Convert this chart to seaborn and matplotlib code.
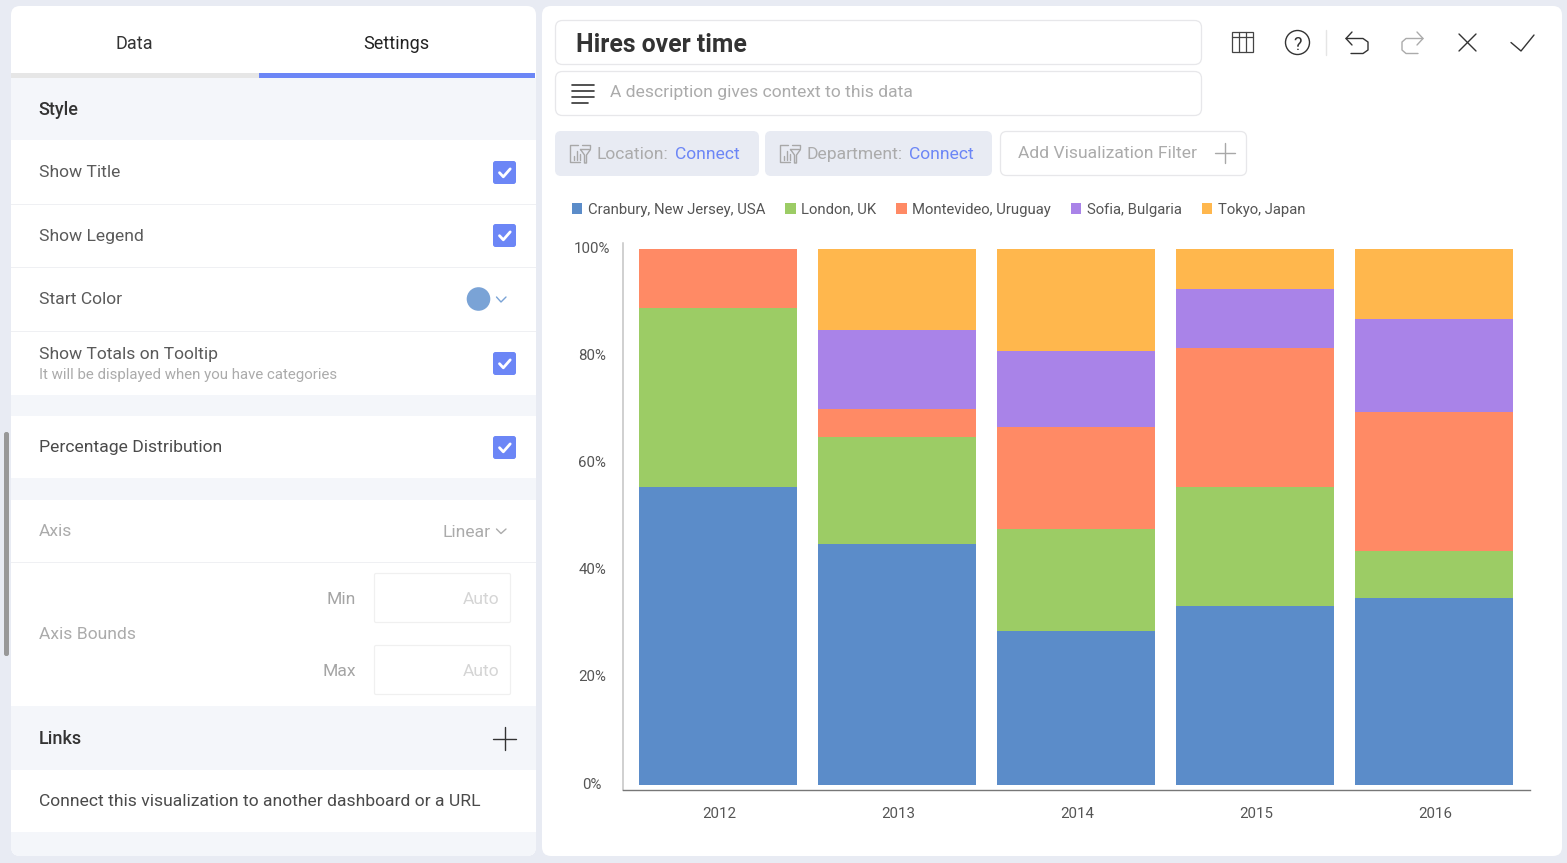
import matplotlib
matplotlib.use("Agg")
import matplotlib.pyplot as plt
from matplotlib.patches import FancyBboxPatch, Rectangle, Circle, Patch
from matplotlib.transforms import ScaledTranslation
import pandas as pd
import seaborn as sns

# ---- data ----
years = ["2012", "2013", "2014", "2015", "2016"]
locations = ["Cranbury, New Jersey, USA", "London, UK", "Montevideo, Uruguay", "Sofia, Bulgaria", "Tokyo, Japan"]
cranbury = [55.6, 45.0, 28.7, 33.3, 34.8]
london = [33.3, 20.0, 19.0, 22.2, 8.8]
montevideo = [11.1, 5.1, 19.1, 25.9, 26.0]
sofia = [0.0, 14.8, 14.2, 11.1, 17.4]
tokyo = [0.0, 15.1, 19.0, 7.4, 13.0]
colors = ["#5B8CC9", "#9CCC65", "#FF8A65", "#A983E8", "#FFB74D"]
y_ticks = [0, 20, 40, 60, 80, 100]

W, H = 1567, 863
sns.set_theme(style="white")
plt.rcParams["font.family"] = ["Roboto", "DejaVu Sans"]

fig = plt.figure(figsize=(W / 100, H / 100), dpi=100, facecolor="#E8EBF3")
ui = fig.add_axes([0, 0, 1, 1], zorder=0)
ui.set_xlim(0, W)
ui.set_ylim(H, 0)
ui.axis("off")

PX = 0.72
FS = 17.45
DARK, MID, PALE, BLUE = "#333333", "#4A4A4A", "#ABABAB", "#6C86F6"
GRAY_BAND, LINE = "#F4F6FA", "#EFF0F3"


def rect(x0, y0, x1, y1, fc, ec="none", lw=0, z=1):
    ui.add_patch(Rectangle((x0, y0), x1 - x0, y1 - y0, fc=fc, ec=ec, lw=lw, zorder=z))


def rrect(x0, y0, x1, y1, r, fc, ec="none", lw=0, z=1):
    ui.add_patch(FancyBboxPatch((x0 + r, y0 + r), x1 - x0 - 2 * r, y1 - y0 - 2 * r,
                                boxstyle=f"round,pad={r},rounding_size={r}",
                                fc=fc, ec=ec, lw=lw, zorder=z))


def text(x, y, s, px=FS, color=MID, weight="normal", ha="left"):
    ui.text(x, y, s, fontsize=px * PX, color=color, fontweight=weight, ha=ha, va="center_baseline", zorder=6)


def line(xs, ys, color=DARK, lw=1.0, z=5):
    ui.plot(xs, ys, color=color, lw=lw, solid_capstyle="round", solid_joinstyle="round", zorder=z)


# panels
rrect(11, 6, 536, 856, 9, "white")
rrect(542, 6, 1562, 856, 9, "white")

# left panel bands
rect(11, 78, 536, 140.5, GRAY_BAND)
rect(11, 395, 536, 416, GRAY_BAND)
rect(11, 478, 536, 500, GRAY_BAND)
rect(11, 706, 536, 769.5, GRAY_BAND)
rrect(11, 832, 536, 856, 9, GRAY_BAND)
rect(11, 832, 536, 845, GRAY_BAND)
for yy in (204, 267, 331, 562):
    rect(11, yy - 0.5, 536, yy + 0.5, LINE, z=2)

# tabs
rect(11, 73, 259, 78, "#E6E6E6")
rect(259, 73, 535, 78, BLUE)
text(134.5, 41.8, "Data", 18, DARK, ha="center")
text(396, 41.8, "Settings", 18, "#222222", ha="center")

# rows
text(38.5, 108, "Style", 18, DARK, "medium")
text(38.6, 171, "Show Title", FS, "#5A5A5A")
text(38.6, 235, "Show Legend", FS, "#5A5A5A")
text(38.6, 298, "Start Color", FS, "#5A5A5A")
text(38.6, 353, "Show Totals on Tooltip", FS, "#5A5A5A")
text(38.6, 373, "It will be displayed when you have categories", 15, "#ABABAB")
text(38.6, 446, "Percentage Distribution", FS, MID)
text(38.6, 530, "Axis", FS, PALE)
text(38.6, 633, "Axis Bounds", FS, PALE)
text(490.5, 531, "Linear", FS, PALE, ha="right")
text(355.5, 598, "Min", FS, "#A5A5A5", ha="right")
text(355.5, 670, "Max", FS, "#A5A5A5", ha="right")
text(38.5, 737, "Links", 18, DARK, "medium")
text(38.6, 800, "Connect this visualization to another dashboard or a URL", FS, MID)

# checkboxes
for cy in (172.5, 235.5, 363.5, 447.5):
    rrect(493, cy - 11.5, 516, cy + 11.5, 2.5, BLUE)
    line([499.5, 503.3, 510.2], [cy + 0.2, cy + 4.3, cy - 3.6], "white", 2.0, z=6)

# colour picker and chevrons
ui.add_patch(Circle((478.5, 299), 11.8, fc="#7AA3D6", ec="none", zorder=3))
line([496.5, 501, 506], [297, 302, 297], "#7AA3D6", 1.0)
line([496.5, 501, 506], [529, 533.5, 529], PALE, 1.0)

# axis bound inputs
for y0, y1 in ((573.5, 622.5), (645.5, 694.5)):
    rrect(374.5, y0, 510.5, y1, 1.5, "white", "#F0F0F0", 0.9)
    text(499, (y0 + y1) / 2 - 0.5, "Auto", FS, "#D5D5D5", ha="right")

# links plus
line([493, 516], [738.5, 738.5], DARK, 1.0)
line([504.5, 504.5], [727, 750], DARK, 1.0)

# scrollbar
rrect(4, 432, 9, 656, 2.2, "#989898")

# title and description
rrect(555.5, 20.5, 1201.5, 64.5, 7, "white", "#E7E7EA", 0.9)
rrect(555.5, 71.5, 1201.5, 115.5, 7, "white", "#E7E7EA", 0.9)
text(576, 42.5, "Hires over time", 24.8, "#333333", "bold")
text(610, 91, "A description gives context to this data", FS, PALE)
for yy, x1 in ((85.5, 593.5), (91.5, 593.5), (97.5, 593.5), (103, 588)):
    line([572, x1], [yy, yy], "#333333", 1.2)

# toolbar icons
rect(1231.5, 32.5, 1252.5, 52.5, "none", "#444444", 0.9, 5)
line([1231.5, 1252.5], [37.5, 37.5], "#444444", 0.9)
line([1238.5, 1238.5], [32.5, 52.5], "#444444", 0.9)
line([1245.5, 1245.5], [32.5, 52.5], "#444444", 0.9)
ui.add_patch(Circle((1297.5, 42.5), 12, fc="none", ec="#333333", lw=1.0, zorder=5))
text(1297.5, 42.5, "?", 18, "#333333", ha="center")
line([1325.5, 1325.5], [30, 55], "#E5E5E5", 1.0)
line([1352, 1346, 1352], [32, 38.5, 45], "#333333", 1.0)
line([1346, 1363, 1368, 1368, 1363, 1351], [38.5, 38.5, 42, 50, 53.5, 53.5], "#333333", 1.0)
line([1417, 1423, 1417], [32, 38.5, 45], "#ABABAB", 1.0)
line([1423, 1406, 1402, 1402, 1406, 1418], [38.5, 38.5, 42, 50, 53.5, 53.5], "#ABABAB", 1.0)
line([1459, 1476], [34, 51], "#333333", 1.0)
line([1476, 1459], [34, 51], "#333333", 1.0)
line([1511, 1521, 1534], [42.5, 51, 35], "#333333", 1.0)

# filter pills
rrect(555, 131, 759, 176, 6, "#E8EBF3")
rrect(765, 131, 992, 176, 6, "#E8EBF3")
rrect(1000.5, 131.5, 1246.5, 175.5, 6, "white", "#E7E7EA", 0.9)


def filter_icon(x):
    c = "#A8A8A8"
    line([x + 10, x, x, x + 8], [162.5, 162.5, 145.5, 145.5], c, 1.0)
    line([x + 12, x + 20, x + 20], [145.5, 145.5, 148], c, 1.0)
    line([x + 11, x + 21, x + 17, x + 17, x + 15, x + 15, x + 11], [149.5, 149.5, 155, 163, 163, 155, 149.5], c, 1.0)
    line([x + 4, x + 4], [156, 160], c, 1.0)
    line([x + 7, x + 7], [151, 160], c, 1.0)
    line([x + 10, x + 10], [154, 160], c, 1.0)


filter_icon(569.5)
filter_icon(779.5)
text(596, 153, "Location:", FS, PALE)
text(675, 153, "Connect", FS, "#6C86F6")
text(806, 153, "Department:", FS, PALE)
text(909, 153, "Connect", FS, "#6C86F6")
text(1017.5, 152, "Add Visualization Filter", FS, PALE)
line([1215, 1235], [153, 153], "#A8A8A8", 1.0)
line([1225, 1225], [143, 163], "#A8A8A8", 1.0)

# ---- chart ----
ax = fig.add_axes([623 / W, 1 - 790 / H, (1530 - 623) / W, (790 - 243) / H], zorder=2)
ax.patch.set_alpha(0)
series = [cranbury, london, montevideo, sofia, tokyo]
df = pd.DataFrame({
    "year": [y for _ in locations for y in years],
    "location": [loc for loc in locations for _ in years],
    "value": [v for vals in series for v in vals],
})
df["year"] = pd.Categorical(df["year"], categories=years, ordered=True)
sns.histplot(data=df, x="year", weights="value", hue="location", hue_order=locations[::-1],
             palette=dict(zip(locations, colors)), multiple="fill", discrete=True, shrink=0.883,
             alpha=1, linewidth=0, ax=ax, legend=False)
ax.set_xlim((623 - 718) / 179, (1530 - 718) / 179)
ax.set_ylim((785 - 790) / 536, (785 - 243) / 536)
ax.set_xlabel("")
ax.set_ylabel("")
ax.set_xticks(range(len(years)))
ax.set_xticklabels(years, fontsize=15 * PX, color="#555555")
ax.set_yticks([t / 100 for t in y_ticks])
ax.set_yticklabels([f"{t}%" for t in y_ticks], fontsize=15 * PX, color="#555555", ha="center")
ax.tick_params(axis="x", length=0, pad=12)
ax.tick_params(axis="y", length=0, pad=22.3)
shift_x = ScaledTranslation(1 / 100, 0, fig.dpi_scale_trans)
shift_y = ScaledTranslation(0, 2 / 100, fig.dpi_scale_trans)
for lbl in ax.get_xticklabels():
    lbl.set_transform(lbl.get_transform() + shift_x)
for lbl in ax.get_yticklabels():
    lbl.set_transform(lbl.get_transform() + shift_y)
sns.despine(ax=ax)
ax.spines["left"].set_color("#C4C4C4")
ax.spines["left"].set_linewidth(1.1)
ax.spines["bottom"].set_color("#777777")
ax.spines["bottom"].set_linewidth(1.0)

handles = [Patch(fc=c, ec="none", label=l) for c, l in zip(colors, locations)]
fig.legend(handles=handles, loc="center left", bbox_to_anchor=(572 / W, 1 - 209.6 / H), ncol=5,
           frameon=False, fontsize=14.9 * PX, labelcolor="#555555", borderpad=0, borderaxespad=0,
           handlelength=0.7, handleheight=0.7, handletextpad=0.36, columnspacing=1.35)

fig.savefig("out.png", dpi=100, facecolor=fig.get_facecolor())
